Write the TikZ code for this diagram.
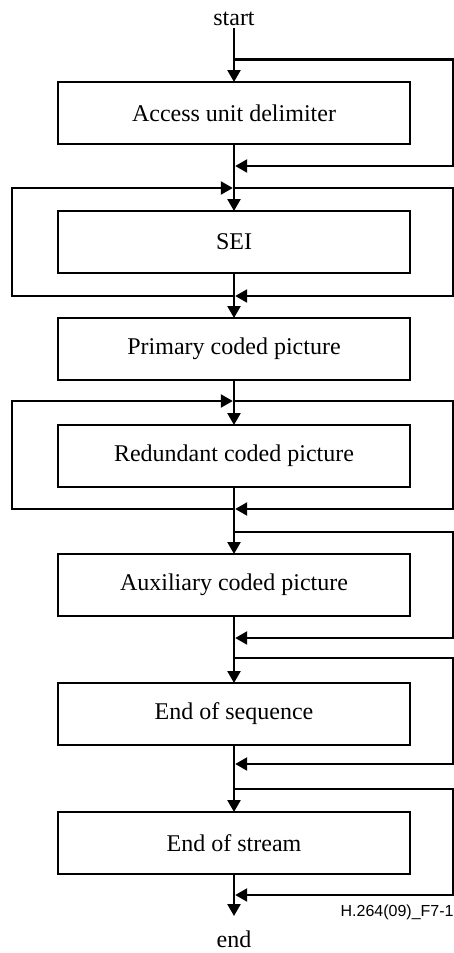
\documentclass[tikz,border=0pt]{standalone}
\usepackage{fontspec}
\setmainfont{Liberation Serif}
\setsansfont{Liberation Sans}
\usepackage{tikz}
\usetikzlibrary{arrows.meta, positioning, calc}

\begin{document}
\begin{tikzpicture}[
    x=1pt, y=1pt,
    node distance=33.5pt,
    box/.style={rectangle, draw, line width=1.2pt, minimum width=176pt, minimum height=31pt, inner sep=0pt, outer sep=0pt, font=\fontsize{12}{14}\selectfont},
    label/.style={font=\fontsize{12}{14}\selectfont, inner sep=1pt},
    arrow/.style={-{Triangle[length=6pt,width=6.5pt]}, line width=1.2pt},
    loop/.style={arrow, shorten >=0.6pt}
]
\useasboundingbox (0,0) rectangle (227,-476.5);

% Start
\node[label] (start) at (117,-9.5) {start};

% Units of the access unit
\node[box] (aud) at (117,-56.5) {Access unit delimiter};
\node[box, below=of aud] (sei) {SEI};
\node[box, below=22.5pt of sei] (pcp) {Primary coded picture};
\node[box, below=22.5pt of pcp] (rcp) {Redundant coded picture};
\node[box, below=of rcp] (acp) {Auxiliary coded picture};
\node[box, below=of acp] (eoseq) {End of sequence};
\node[box, below=of eoseq] (eostr) {End of stream};

% End
\coordinate (tail) at ($(eostr.south)+(0,-21)$);
\node[label] (stop) at (117,-469.5) {end};
\node[anchor=east, font=\fontsize{8}{9}\sffamily, inner sep=0pt] (figref) at (227,-456) {H.264(09)\_F7-1};

% Side lines
\coordinate (lx) at (6,0);
\coordinate (rx) at (226.5,0);

% Junctions
\coordinate (aud_in) at ($(aud.north)+(0,11.25)$);
\coordinate (aud_out) at ($(aud.south)+(0,-11)$);
\coordinate (sei_in) at ($(sei.north)+(0,11.5)$);
\coordinate (sei_out) at ($(sei.south)+(0,-11.5)$);
\coordinate (rcp_in) at ($(rcp.north)+(0,12)$);
\coordinate (rcp_out) at ($(rcp.south)+(0,-11)$);
\coordinate (acp_in) at ($(acp.north)+(0,11)$);
\coordinate (acp_out) at ($(acp.south)+(0,-11)$);
\coordinate (eoseq_in) at ($(eoseq.north)+(0,12.5)$);
\coordinate (eoseq_out) at ($(eoseq.south)+(0,-9.5)$);
\coordinate (eostr_in) at ($(eostr.north)+(0,11.5)$);
\coordinate (eostr_out) at ($(eostr.south)+(0,-10.5)$);

% Main flow
\draw[arrow] (start) -- (aud);
\draw[arrow] (aud) -- (sei);
\draw[arrow] (sei) -- (pcp);
\draw[arrow] (pcp) -- (rcp);
\draw[arrow] (rcp) -- (acp);
\draw[arrow] (acp) -- (eoseq);
\draw[arrow] (eoseq) -- (eostr);
\draw[arrow] (eostr) -- (tail);

% Skips
\draw[loop] (aud_in) -| (rx |- aud_out) -- (aud_out);
\draw[loop] (sei_in) -| (rx |- sei_out) -- (sei_out);
\draw[loop] (rcp_in) -| (rx |- rcp_out) -- (rcp_out);
\draw[loop] (acp_in) -| (rx |- acp_out) -- (acp_out);
\draw[loop] (eoseq_in) -| (rx |- eoseq_out) -- (eoseq_out);
\draw[loop] (eostr_in) -| (rx |- eostr_out) -- (eostr_out);

% Repeats
\draw[loop] (sei_out) -| (lx |- sei_in) -- (sei_in);
\draw[loop] (rcp_out) -| (lx |- rcp_in) -- (rcp_in);

\end{tikzpicture}
\end{document}
